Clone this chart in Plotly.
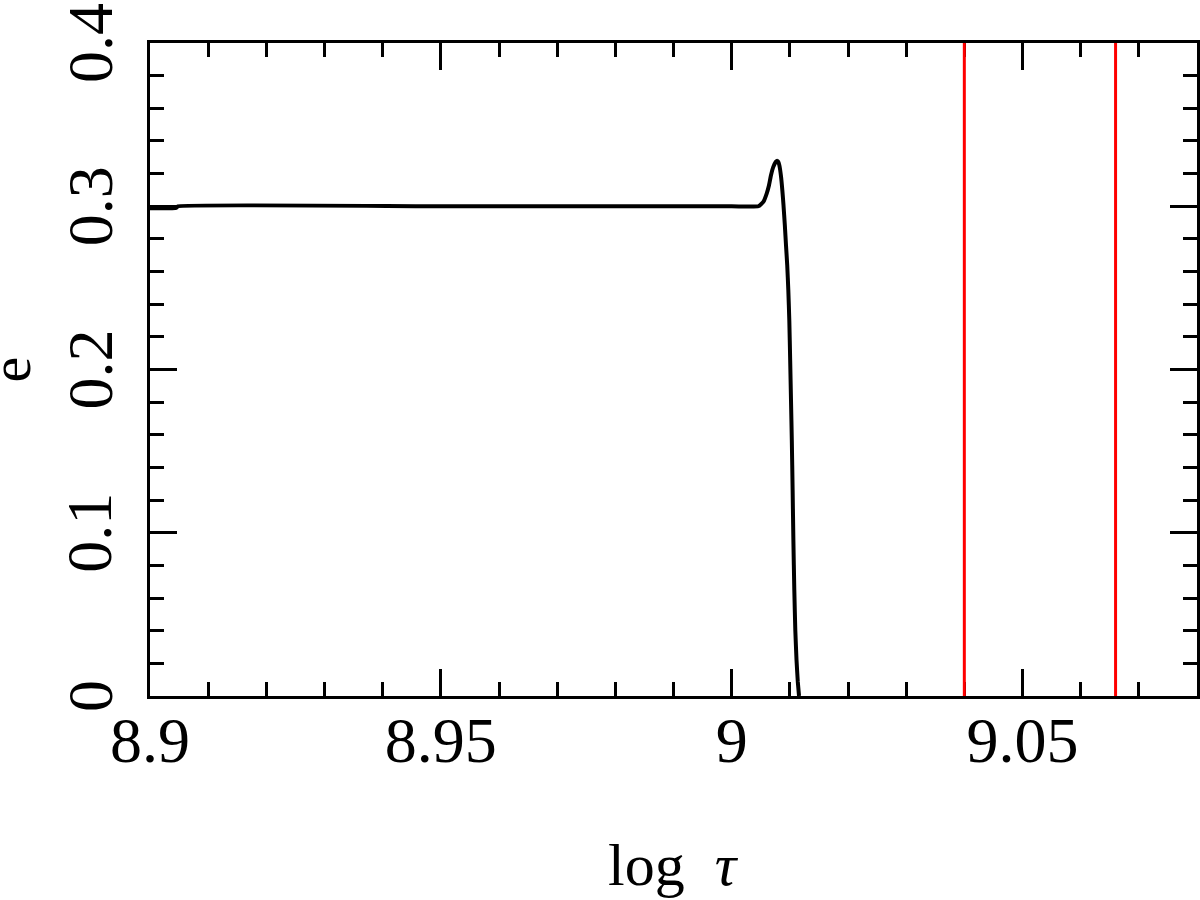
import plotly.graph_objects as go

# curve data
log_tau = [8.9, 8.9045, 8.9048, 8.95, 9.0, 9.00458, 9.00544, 9.00602, 9.00642, 9.00676,
           9.00716, 9.00757, 9.00772, 9.00784, 9.00800, 9.00819, 9.00848, 9.00871,
           9.00891, 9.00914, 9.00934, 9.00955, 9.00974, 9.00991, 9.01006, 9.0102,
           9.01034, 9.01048, 9.01061, 9.01077, 9.01094, 9.01115, 9.01137, 9.01158]
ecc = [0.2988, 0.2990, 0.3, 0.3, 0.3, 0.3, 0.3027, 0.3078, 0.3129, 0.319,
       0.3241, 0.3271, 0.3276, 0.3278, 0.3272, 0.3252, 0.3184, 0.3098,
       0.3007, 0.2884, 0.2762, 0.2639, 0.2486, 0.2302, 0.2057, 0.1812,
       0.1567, 0.1261, 0.0955, 0.0649, 0.0404, 0.0220, 0.0086, 0.0]

# vertical red markers
red_x = [9.04, 9.066]

x_ticks = [8.9, 8.95, 9.0, 9.05]
x_ticklabels = ["8.9", "8.95", "9", "9.05"]
y_ticks = [0, 0.1, 0.2, 0.3, 0.4]
y_ticklabels = ["0", "0.1", "0.2", "0.3", "0.4"]

FONT = "Liberation Serif"

fig = go.Figure()
fig.add_trace(go.Scatter(x=log_tau, y=ecc, mode="lines",
                         line=dict(color="black", width=4, shape="spline", smoothing=0.4),
                         showlegend=False, hoverinfo="skip", cliponaxis=False))
for xv in red_x:
    fig.add_trace(go.Scatter(x=[xv, xv], y=[0, 0.4], mode="lines",
                             line=dict(color="#ff0000", width=3),
                             showlegend=False, hoverinfo="skip", cliponaxis=False))

axis_common = dict(
    showgrid=False, zeroline=False, showline=True, linecolor="black", linewidth=3,
    mirror="ticks", ticks="inside", tickcolor="black", tickwidth=3, ticklen=27,
    automargin=False, ticklabeloverflow="allow", layer="below traces",
)

fig.update_xaxes(
    range=[8.9, 9.08], tickvals=x_ticks, ticktext=x_ticklabels,
    tickfont=dict(family=FONT, size=64, color="black"),
    ticklabelstandoff=-14,
    minor=dict(dtick=0.01, tick0=8.9, ticks="inside", ticklen=14, tickwidth=3, tickcolor="black"),
    **axis_common,
)
fig.update_yaxes(
    range=[0, 0.4], tickvals=y_ticks, showticklabels=False,
    minor=dict(dtick=0.02, tick0=0, ticks="inside", ticklen=14, tickwidth=3, tickcolor="black"),
    **axis_common,
)

# rotated y tick labels placed at the y-axis values
for val, lab in zip(y_ticks, y_ticklabels):
    fig.add_annotation(text=lab, xref="paper", yref="y", x=-0.0573, y=val,
                       xanchor="center", yanchor="middle", textangle=-90, showarrow=False,
                       font=dict(family=FONT, size=64, color="black"))

# axis titles
fig.add_annotation(text="e", xref="paper", yref="paper", x=-0.1337, y=0.5,
                   xanchor="center", yanchor="middle", textangle=-90, showarrow=False,
                   font=dict(family=FONT, size=58, color="black"))
fig.add_annotation(text="log  <i>τ</i>", xref="paper", yref="paper", x=0.5, y=-0.2588,
                   xanchor="center", yanchor="middle", showarrow=False,
                   font=dict(family=FONT, size=60, color="black"))

fig.update_layout(
    width=1200, height=900,
    margin=dict(l=150, r=3, t=43, b=204),
    plot_bgcolor="white", paper_bgcolor="white",
)

fig.write_html("out.html", config={"displayModeBar": False},
               post_script="document.body.style.margin='0';document.body.style.overflow='hidden';")
